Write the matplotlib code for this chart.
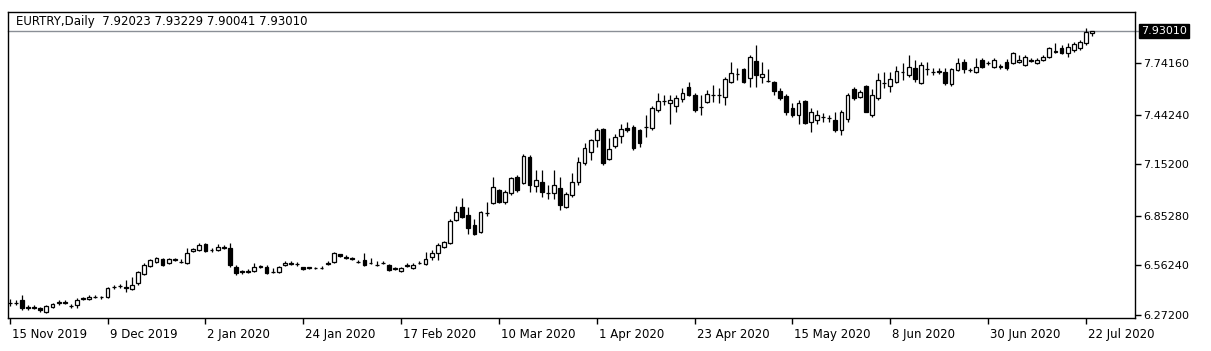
import numpy as np
import pandas as pd
import matplotlib
matplotlib.use("Agg")
import matplotlib.pyplot as plt
from matplotlib.transforms import ScaledTranslation, blended_transform_factory

symbol = "EURTRY,Daily"
first_date, last_date = "2019-11-15", "2020-07-23"
holidays = ["2019-12-25", "2020-01-01"]

opens = [6.342, 6.343, 6.360, 6.318, 6.312, 6.315, 6.292, 6.318, 6.340, 6.348,
         6.326, 6.330, 6.365, 6.364, 6.380, 6.376, 6.379, 6.433, 6.440, 6.437,
         6.422, 6.457, 6.511, 6.560, 6.583, 6.597, 6.577, 6.596, 6.584, 6.574,
         6.648, 6.652, 6.685, 6.651, 6.652, 6.665, 6.661, 6.554, 6.528, 6.526,
         6.529, 6.552, 6.554, 6.524, 6.525, 6.564, 6.572, 6.570, 6.550, 6.546,
         6.547, 6.548, 6.570, 6.583, 6.626, 6.612, 6.605, 6.584, 6.593, 6.573,
         6.563, 6.576, 6.564, 6.543, 6.529, 6.560, 6.545, 6.576, 6.570, 6.612,
         6.636, 6.671, 6.691, 6.827, 6.904, 6.856, 6.800, 6.755, 6.868, 6.924,
         7.002, 6.934, 6.983, 7.080, 7.041, 7.193, 7.025, 7.050, 6.984, 6.986,
         7.015, 6.904, 6.973, 7.050, 7.160, 7.225, 7.294, 7.356, 7.181, 7.259,
         7.317, 7.362, 7.372, 7.352, 7.372, 7.362, 7.469, 7.524, 7.508, 7.492,
         7.531, 7.605, 7.557, 7.489, 7.517, 7.556, 7.556, 7.547, 7.634, 7.679,
         7.707, 7.654, 7.757, 7.660, 7.641, 7.634, 7.582, 7.551, 7.479, 7.440,
         7.523, 7.401, 7.411, 7.427, 7.421, 7.411, 7.352, 7.415, 7.590, 7.546,
         7.609, 7.440, 7.537, 7.625, 7.609, 7.634, 7.693, 7.673, 7.712, 7.625,
         7.707, 7.693, 7.693, 7.693, 7.619, 7.703, 7.751, 7.703, 7.693, 7.761,
         7.741, 7.722, 7.722, 7.751, 7.742, 7.751, 7.732, 7.756, 7.742, 7.761,
         7.780, 7.810, 7.829, 7.800, 7.819, 7.829, 7.858, 7.92023]
highs = [6.365, 6.360, 6.389, 6.330, 6.330, 6.320, 6.330, 6.345, 6.360, 6.360,
         6.335, 6.370, 6.380, 6.390, 6.390, 6.385, 6.435, 6.445, 6.452, 6.476,
         6.495, 6.530, 6.575, 6.600, 6.612, 6.605, 6.605, 6.605, 6.600, 6.665,
         6.665, 6.690, 6.695, 6.665, 6.685, 6.680, 6.690, 6.565, 6.535, 6.540,
         6.575, 6.565, 6.565, 6.545, 6.560, 6.585, 6.585, 6.580, 6.555, 6.555,
         6.552, 6.557, 6.590, 6.642, 6.630, 6.620, 6.612, 6.592, 6.633, 6.605,
         6.590, 6.588, 6.570, 6.555, 6.555, 6.575, 6.575, 6.590, 6.640, 6.652,
         6.690, 6.705, 6.830, 6.908, 6.953, 6.900, 6.830, 6.880, 6.930, 7.080,
         7.010, 7.000, 7.080, 7.090, 7.210, 7.205, 7.120, 7.120, 7.031, 7.120,
         7.080, 6.990, 7.100, 7.196, 7.275, 7.300, 7.362, 7.362, 7.304, 7.330,
         7.385, 7.400, 7.380, 7.360, 7.440, 7.490, 7.570, 7.557, 7.557, 7.557,
         7.595, 7.630, 7.567, 7.557, 7.586, 7.615, 7.600, 7.664, 7.751, 7.712,
         7.715, 7.790, 7.849, 7.750, 7.707, 7.640, 7.595, 7.560, 7.508, 7.527,
         7.530, 7.479, 7.469, 7.450, 7.440, 7.459, 7.469, 7.567, 7.605, 7.585,
         7.615, 7.590, 7.683, 7.693, 7.693, 7.726, 7.741, 7.790, 7.761, 7.751,
         7.751, 7.715, 7.712, 7.712, 7.715, 7.771, 7.765, 7.715, 7.771, 7.775,
         7.755, 7.770, 7.735, 7.765, 7.810, 7.790, 7.790, 7.775, 7.770, 7.790,
         7.835, 7.858, 7.850, 7.858, 7.865, 7.878, 7.946, 7.93229]
lows = [6.325, 6.330, 6.301, 6.300, 6.305, 6.290, 6.285, 6.310, 6.333, 6.335,
        6.315, 6.313, 6.358, 6.360, 6.370, 6.365, 6.372, 6.425, 6.430, 6.408,
        6.418, 6.450, 6.505, 6.553, 6.578, 6.560, 6.572, 6.590, 6.575, 6.570,
        6.640, 6.645, 6.640, 6.640, 6.645, 6.655, 6.555, 6.505, 6.510, 6.515,
        6.525, 6.545, 6.510, 6.520, 6.520, 6.558, 6.565, 6.560, 6.537, 6.540,
        6.540, 6.540, 6.565, 6.578, 6.610, 6.600, 6.595, 6.575, 6.558, 6.568,
        6.560, 6.568, 6.530, 6.535, 6.522, 6.555, 6.540, 6.568, 6.565, 6.593,
        6.593, 6.665, 6.685, 6.820, 6.840, 6.745, 6.740, 6.750, 6.850, 6.920,
        6.925, 6.920, 6.975, 6.990, 7.035, 6.992, 6.992, 6.962, 6.950, 6.950,
        6.885, 6.895, 6.960, 7.031, 7.150, 7.177, 7.255, 7.150, 7.177, 7.250,
        7.275, 7.342, 7.235, 7.255, 7.313, 7.355, 7.460, 7.498, 7.390, 7.459,
        7.517, 7.550, 7.459, 7.440, 7.510, 7.517, 7.508, 7.498, 7.628, 7.644,
        7.625, 7.605, 7.605, 7.625, 7.634, 7.557, 7.527, 7.440, 7.426, 7.390,
        7.390, 7.342, 7.390, 7.400, 7.400, 7.342, 7.323, 7.400, 7.527, 7.540,
        7.455, 7.430, 7.530, 7.595, 7.576, 7.628, 7.644, 7.664, 7.634, 7.620,
        7.673, 7.675, 7.678, 7.615, 7.610, 7.698, 7.683, 7.690, 7.683, 7.715,
        7.730, 7.715, 7.710, 7.705, 7.735, 7.745, 7.725, 7.748, 7.735, 7.755,
        7.775, 7.800, 7.795, 7.780, 7.810, 7.819, 7.849, 7.90041]
closes = [6.340, 6.345, 6.313, 6.312, 6.318, 6.300, 6.325, 6.334, 6.350, 6.343,
          6.324, 6.360, 6.372, 6.379, 6.376, 6.375, 6.428, 6.434, 6.441, 6.432,
          6.447, 6.525, 6.564, 6.593, 6.603, 6.564, 6.597, 6.598, 6.582, 6.632,
          6.655, 6.681, 6.647, 6.652, 6.671, 6.668, 6.564, 6.515, 6.522, 6.531,
          6.554, 6.556, 6.515, 6.526, 6.554, 6.577, 6.575, 6.567, 6.540, 6.550,
          6.544, 6.549, 6.576, 6.632, 6.618, 6.606, 6.600, 6.583, 6.564, 6.575,
          6.565, 6.577, 6.535, 6.547, 6.548, 6.566, 6.564, 6.577, 6.597, 6.632,
          6.681, 6.696, 6.820, 6.875, 6.846, 6.780, 6.745, 6.875, 6.866, 7.018,
          6.934, 6.992, 7.070, 7.002, 7.200, 7.031, 7.060, 6.992, 6.982, 7.031,
          6.914, 6.977, 7.050, 7.167, 7.245, 7.294, 7.352, 7.158, 7.240, 7.310,
          7.356, 7.352, 7.245, 7.275, 7.371, 7.479, 7.523, 7.523, 7.527, 7.537,
          7.570, 7.557, 7.469, 7.488, 7.560, 7.558, 7.557, 7.648, 7.687, 7.680,
          7.634, 7.777, 7.673, 7.680, 7.639, 7.582, 7.537, 7.459, 7.440, 7.512,
          7.395, 7.459, 7.440, 7.426, 7.420, 7.352, 7.459, 7.557, 7.537, 7.576,
          7.459, 7.557, 7.644, 7.626, 7.648, 7.698, 7.692, 7.722, 7.648, 7.732,
          7.706, 7.692, 7.694, 7.625, 7.707, 7.742, 7.707, 7.704, 7.722, 7.722,
          7.742, 7.761, 7.723, 7.712, 7.800, 7.761, 7.780, 7.763, 7.761, 7.780,
          7.829, 7.811, 7.800, 7.839, 7.854, 7.868, 7.926, 7.93010]

tick_labels = ["15 Nov 2019", "9 Dec 2019", "2 Jan 2020", "24 Jan 2020",
               "17 Feb 2020", "10 Mar 2020", "1 Apr 2020", "23 Apr 2020",
               "15 May 2020", "8 Jun 2020", "30 Jun 2020", "22 Jul 2020"]
price_ticks = [6.27200, 6.56240, 6.85280, 7.15200, 7.44240, 7.74160]
price_min, price_max = 6.2545, 8.0412

# ---------------------------------------------------------------------------
plt.rcParams["font.family"] = ["DejaVu Sans"]

dates = pd.bdate_range(first_date, last_date)
dates = dates[~dates.isin(pd.to_datetime(holidays))]
o = np.array(opens); h = np.array(highs); l = np.array(lows); c = np.array(closes)
x = np.arange(len(dates))

W, H = 1211, 351
fig = plt.figure(figsize=(W / 100, H / 100), dpi=100)
left, right, top, bottom = 8.3, 1134.5, 12, 318
ax = fig.add_axes([left / W, 1 - bottom / H, (right - left) / W, (bottom - top) / H])

step = 6.1155
x0 = (left - 9.7) / step
x1 = (right - 9.7) / step
ax.set_xlim(x0, x1)
ax.set_ylim(price_min, price_max)

# wicks
ax.vlines(x, l, h, color="black", linewidth=0.9)
# bodies
up = c >= o
body_bottom = np.minimum(o, c)
body_h = np.maximum(np.abs(c - o), 0.0008)
ax.bar(x[up], body_h[up], bottom=body_bottom[up], width=0.62,
       color="white", edgecolor="black", linewidth=0.9, zorder=3)
ax.bar(x[~up], body_h[~up], bottom=body_bottom[~up], width=0.62,
       color="black", edgecolor="black", linewidth=0.9, zorder=3)

# bid line
ax.axhline(c[-1], xmin=0, xmax=1.004, color="#8a8f96", linewidth=1.0,
           clip_on=False, zorder=1)

# axes styling
for s in ax.spines.values():
    s.set_color("black")
    s.set_linewidth(1.0)

ax.yaxis.tick_right()
ax.set_yticks(price_ticks)
ax.set_yticklabels([f"{v:.5f}" for v in price_ticks])
ax.tick_params(axis="y", direction="out", length=4, width=1, pad=2,
               labelsize=8, colors="black")

label_dates = pd.to_datetime(tick_labels, format="%d %b %Y")
tick_pos = [int(np.where(dates == d)[0][0]) for d in label_dates]
ax.set_xticks(tick_pos)
ax.set_xticklabels(tick_labels, ha="left")
ax.tick_params(axis="x", direction="out", length=4, width=1, pad=3,
               labelsize=8.5, colors="black")
off = ScaledTranslation(2 / 100, 0, fig.dpi_scale_trans)
for t in ax.get_xticklabels():
    t.set_transform(t.get_transform() + off)

# current price box
tr = blended_transform_factory(ax.transAxes, ax.transData)
ax.annotate(f"{c[-1]:.5f}", xy=(1, c[-1]), xycoords=tr,
            xytext=(4.5, 0), textcoords="offset points",
            ha="left", va="center", fontsize=8, color="white",
            bbox=dict(boxstyle="square,pad=0.18", fc="black", ec="black"),
            annotation_clip=False)

# header
fig.text(16 / W, 1 - 22 / H,
         f"{symbol}  {o[-1]:.5f} {h[-1]:.5f} {l[-1]:.5f} {c[-1]:.5f}",
         ha="left", va="center", fontsize=8.5, color="black")

fig.savefig("out.png", dpi=100, facecolor="white")
